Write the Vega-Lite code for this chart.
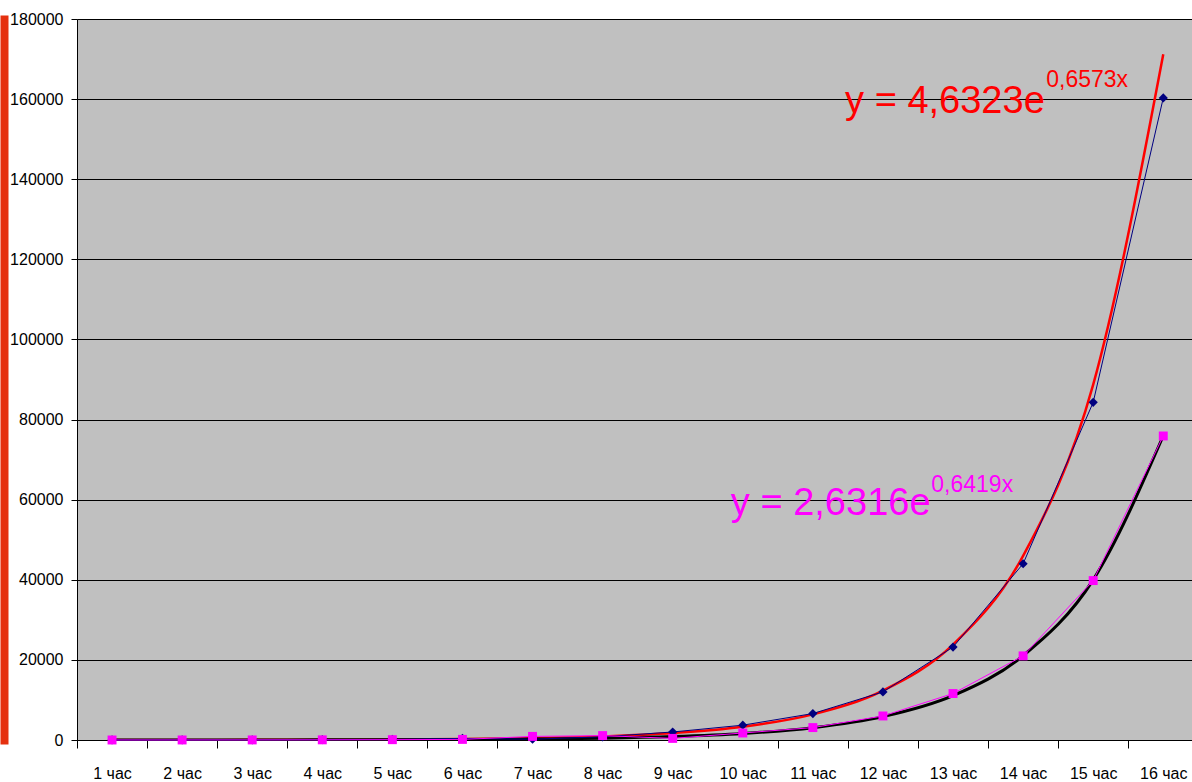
{
  "$schema": "https://vega.github.io/schema/vega-lite/v6.json",
  "width": 1115,
  "height": 721,
  "autosize": {"type": "none"},
  "padding": {"left": 77, "top": 19, "right": 0, "bottom": 42},
  "background": "#ffffff",
  "config": {
    "view": {"fill": "#c0c0c0", "stroke": null},
    "font": "Liberation Sans, Arial, sans-serif",
    "axis": {
      "labelFont": "Liberation Sans, Arial, sans-serif",
      "labelFontSize": 16,
      "labelColor": "#000000",
      "domainColor": "#000000",
      "tickColor": "#000000",
      "title": null
    }
  },
  "datasets": {
    "points": [
      {"hour": 1, "series": "Серия1", "value": 10},
      {"hour": 2, "series": "Серия1", "value": 20},
      {"hour": 3, "series": "Серия1", "value": 40},
      {"hour": 4, "series": "Серия1", "value": 80},
      {"hour": 5, "series": "Серия1", "value": 160},
      {"hour": 6, "series": "Серия1", "value": 400},
      {"hour": 7, "series": "Серия1", "value": 200},
      {"hour": 8, "series": "Серия1", "value": 800},
      {"hour": 9, "series": "Серия1", "value": 2000},
      {"hour": 10, "series": "Серия1", "value": 3700},
      {"hour": 11, "series": "Серия1", "value": 6600},
      {"hour": 12, "series": "Серия1", "value": 12000},
      {"hour": 13, "series": "Серия1", "value": 23200},
      {"hour": 14, "series": "Серия1", "value": 44000},
      {"hour": 15, "series": "Серия1", "value": 84300},
      {"hour": 16, "series": "Серия1", "value": 160300},
      {"hour": 1, "series": "Серия2", "value": 5},
      {"hour": 2, "series": "Серия2", "value": 10},
      {"hour": 3, "series": "Серия2", "value": 20},
      {"hour": 4, "series": "Серия2", "value": 40},
      {"hour": 5, "series": "Серия2", "value": 80},
      {"hour": 6, "series": "Серия2", "value": 150},
      {"hour": 7, "series": "Серия2", "value": 900},
      {"hour": 8, "series": "Серия2", "value": 1100},
      {"hour": 9, "series": "Серия2", "value": 400},
      {"hour": 10, "series": "Серия2", "value": 1750},
      {"hour": 11, "series": "Серия2", "value": 3100},
      {"hour": 12, "series": "Серия2", "value": 6000},
      {"hour": 13, "series": "Серия2", "value": 11600},
      {"hour": 14, "series": "Серия2", "value": 21000},
      {"hour": 15, "series": "Серия2", "value": 39800},
      {"hour": 16, "series": "Серия2", "value": 75900}
    ],
    "trend": [
      {"hour": 1, "series": "Серия1", "value": 9},
      {"hour": 2, "series": "Серия1", "value": 17},
      {"hour": 3, "series": "Серия1", "value": 33},
      {"hour": 4, "series": "Серия1", "value": 64},
      {"hour": 5, "series": "Серия1", "value": 124},
      {"hour": 6, "series": "Серия1", "value": 239},
      {"hour": 7, "series": "Серия1", "value": 461},
      {"hour": 8, "series": "Серия1", "value": 890},
      {"hour": 9, "series": "Серия1", "value": 1718},
      {"hour": 10, "series": "Серия1", "value": 3315},
      {"hour": 11, "series": "Серия1", "value": 6398},
      {"hour": 12, "series": "Серия1", "value": 12346},
      {"hour": 13, "series": "Серия1", "value": 23826},
      {"hour": 14, "series": "Серия1", "value": 45978},
      {"hour": 15, "series": "Серия1", "value": 88722},
      {"hour": 16, "series": "Серия1", "value": 171210},
      {"hour": 1, "series": "Серия2", "value": 5},
      {"hour": 2, "series": "Серия2", "value": 9.5},
      {"hour": 3, "series": "Серия2", "value": 18},
      {"hour": 4, "series": "Серия2", "value": 34},
      {"hour": 5, "series": "Серия2", "value": 65},
      {"hour": 6, "series": "Серия2", "value": 124},
      {"hour": 7, "series": "Серия2", "value": 235},
      {"hour": 8, "series": "Серия2", "value": 447},
      {"hour": 9, "series": "Серия2", "value": 850},
      {"hour": 10, "series": "Серия2", "value": 1614},
      {"hour": 11, "series": "Серия2", "value": 3067},
      {"hour": 12, "series": "Серия2", "value": 5828},
      {"hour": 13, "series": "Серия2", "value": 11074},
      {"hour": 14, "series": "Серия2", "value": 21040},
      {"hour": 15, "series": "Серия2", "value": 39980},
      {"hour": 16, "series": "Серия2", "value": 75962}
    ],
    "equations": [
      {"series": "Серия1", "part": "base", "hour": 11.46, "value": 156500, "text": "y = 4,6323e"},
      {"series": "Серия1", "part": "exp", "hour": 14.33, "value": 163000, "text": "0,6573x"},
      {"series": "Серия2", "part": "base", "hour": 9.83, "value": 56200, "text": "y = 2,6316e"},
      {"series": "Серия2", "part": "exp", "hour": 12.69, "value": 61900, "text": "0,6419x"}
    ]
  },
  "resolve": {"axis": {"y": "independent"}},
  "layer": [
    {
      "data": {"name": "trend"},
      "transform": [{"filter": "datum.series === 'Серия1'"}],
      "mark": {"type": "line", "color": "#ff0000", "strokeWidth": 2.5, "interpolate": "monotone", "clip": true},
      "encoding": {
        "x": {
          "field": "hour", "type": "quantitative",
          "scale": {"domain": [0.5, 16.41], "nice": false, "zero": false},
          "axis": {
            "values": [0.5, 1.5, 2.5, 3.5, 4.5, 5.5, 6.5, 7.5, 8.5, 9.5, 10.5, 11.5, 12.5, 13.5, 14.5, 15.5],
            "labelExpr": "(datum.value + 0.5) + ' час'",
            "labelOffset": 35,
            "labelAlign": "center",
            "labelOverlap": false,
            "labelBound": false,
            "labelFlush": false,
            "tickSize": 8,
            "labelPadding": 17,
            "grid": false,
            "domainWidth": 1
          }
        },
        "y": {
          "field": "value", "type": "quantitative",
          "scale": {"domain": [0, 180000], "nice": false},
          "axis": {
            "values": [0, 20000, 40000, 60000, 80000, 100000, 120000, 140000, 160000, 180000],
            "format": "d",
            "grid": true,
            "gridColor": "#000000",
            "gridWidth": 1,
            "gridOpacity": 1,
            "tickSize": 6,
            "labelPadding": 8,
            "domainWidth": 1
          }
        }
      }
    },
    {
      "data": {"name": "trend"},
      "transform": [{"filter": "datum.series === 'Серия2'"}],
      "mark": {"type": "line", "color": "#000000", "strokeWidth": 3, "interpolate": "monotone", "clip": true},
      "encoding": {
        "x": {"field": "hour", "type": "quantitative"},
        "y": {
          "field": "value", "type": "quantitative",
          "axis": {
            "orient": "left",
            "offset": 73,
            "domainColor": "#e5300f",
            "domainWidth": 8,
            "domainCap": "square",
            "labels": false,
            "ticks": false,
            "grid": false
          }
        }
      }
    },
    {
      "data": {"name": "points"},
      "transform": [{"filter": "datum.series === 'Серия1'"}],
      "mark": {"type": "line", "color": "#000080", "strokeWidth": 1},
      "encoding": {
        "x": {"field": "hour", "type": "quantitative"},
        "y": {"field": "value", "type": "quantitative", "axis": null}
      }
    },
    {
      "data": {"name": "points"},
      "transform": [{"filter": "datum.series === 'Серия2'"}],
      "mark": {"type": "line", "color": "#ff00ff", "strokeWidth": 1},
      "encoding": {
        "x": {"field": "hour", "type": "quantitative"},
        "y": {"field": "value", "type": "quantitative", "axis": null}
      }
    },
    {
      "data": {"name": "points"},
      "transform": [{"filter": "datum.series === 'Серия1'"}],
      "mark": {"type": "point", "shape": "diamond", "filled": true, "color": "#000080", "size": 85, "opacity": 1},
      "encoding": {
        "x": {"field": "hour", "type": "quantitative"},
        "y": {"field": "value", "type": "quantitative", "axis": null}
      }
    },
    {
      "data": {"name": "points"},
      "transform": [{"filter": "datum.series === 'Серия2'"}],
      "mark": {"type": "point", "shape": "square", "filled": true, "color": "#ff00ff", "size": 80, "opacity": 1},
      "encoding": {
        "x": {"field": "hour", "type": "quantitative"},
        "y": {"field": "value", "type": "quantitative", "axis": null}
      }
    },
    {
      "data": {"name": "equations"},
      "transform": [{"filter": "datum.series === 'Серия1' && datum.part === 'base'"}],
      "mark": {"type": "text", "color": "#ff0000", "fontSize": 38, "align": "left", "baseline": "alphabetic", "font": "Liberation Sans, Arial, sans-serif"},
      "encoding": {
        "x": {"field": "hour", "type": "quantitative"},
        "y": {"field": "value", "type": "quantitative", "axis": null},
        "text": {"field": "text"}
      }
    },
    {
      "data": {"name": "equations"},
      "transform": [{"filter": "datum.series === 'Серия1' && datum.part === 'exp'"}],
      "mark": {"type": "text", "color": "#ff0000", "fontSize": 23, "align": "left", "baseline": "alphabetic", "font": "Liberation Sans, Arial, sans-serif"},
      "encoding": {
        "x": {"field": "hour", "type": "quantitative"},
        "y": {"field": "value", "type": "quantitative", "axis": null},
        "text": {"field": "text"}
      }
    },
    {
      "data": {"name": "equations"},
      "transform": [{"filter": "datum.series === 'Серия2' && datum.part === 'base'"}],
      "mark": {"type": "text", "color": "#ff00ff", "fontSize": 38, "align": "left", "baseline": "alphabetic", "font": "Liberation Sans, Arial, sans-serif"},
      "encoding": {
        "x": {"field": "hour", "type": "quantitative"},
        "y": {"field": "value", "type": "quantitative", "axis": null},
        "text": {"field": "text"}
      }
    },
    {
      "data": {"name": "equations"},
      "transform": [{"filter": "datum.series === 'Серия2' && datum.part === 'exp'"}],
      "mark": {"type": "text", "color": "#ff00ff", "fontSize": 23, "align": "left", "baseline": "alphabetic", "font": "Liberation Sans, Arial, sans-serif"},
      "encoding": {
        "x": {"field": "hour", "type": "quantitative"},
        "y": {"field": "value", "type": "quantitative", "axis": null},
        "text": {"field": "text"}
      }
    }
  ]
}
